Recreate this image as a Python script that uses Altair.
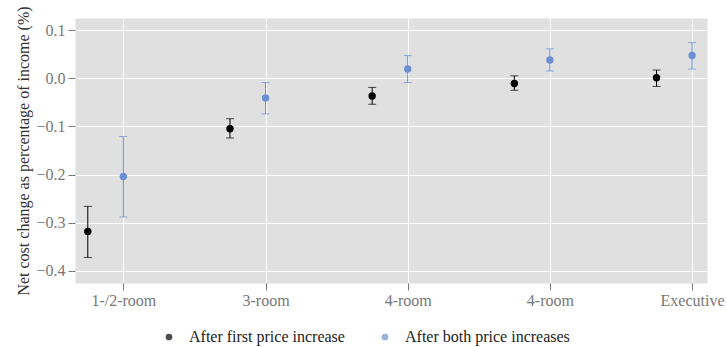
import altair as alt
import pandas as pd

categories = ["1-/2-room", "3-room", "4-room", "4-room", "Executive"]
series = ["After first price increase", "After both price increases"]
first_mean = [-0.318, -0.105, -0.037, -0.011, 0.001]
first_lo = [-0.372, -0.124, -0.054, -0.025, -0.017]
first_hi = [-0.266, -0.084, -0.019, 0.005, 0.017]
both_mean = [-0.204, -0.041, 0.019, 0.038, 0.047]
both_lo = [-0.288, -0.074, -0.009, 0.015, 0.019]
both_hi = [-0.121, -0.009, 0.047, 0.061, 0.074]
offsets = [-0.25, 0.0]

rows = []
for s, (m, lo, hi), off in zip(series, [(first_mean, first_lo, first_hi), (both_mean, both_lo, both_hi)], offsets):
    for i, c in enumerate(categories):
        rows.append({"pos": i + off, "cat": c, "series": s, "mean": m[i], "lo": lo[i], "hi": hi[i]})
df = pd.DataFrame(rows)

FONT = "Liberation Serif"
label_arr = "[" + ",".join("'" + c + "'" for c in categories) + "]"

xs = alt.Scale(domain=[-0.34, 4.105], nice=False, zero=False)
ys = alt.Scale(domain=[-0.425, 0.125], nice=False, zero=False)
color_enc = alt.Color(
    "series:N", scale=alt.Scale(domain=series, range=["#000000", "#6b8fd0"]),
    legend=alt.Legend(title=None, orient="none", direction="horizontal",
                      legendX=86, legendY=311, symbolSize=45,
                      symbolType="circle", columnPadding=32, symbolStrokeWidth=0,
                      labelOffset=12, labelLimit=400,
                      labelFont=FONT, labelFontSize=16, labelColor="#222222"))

x_enc = alt.X("pos:Q", scale=xs,
              axis=alt.Axis(values=[0, 1, 2, 3, 4], labelExpr=label_arr + "[datum.value]",
                            title=None, grid=True, labelPadding=2))
y_enc = alt.Y("mean:Q", scale=ys,
              axis=alt.Axis(values=[0.1, 0.0, -0.1, -0.2, -0.3, -0.4], format=".1f",
                            labelPadding=3,
                            title="Net cost change as percentage of income (%)"))

base = alt.Chart(df)
rule = base.mark_rule(strokeWidth=1).encode(
    x=x_enc, y=alt.Y("lo:Q", scale=ys), y2="hi:Q", color=color_enc)
cap_lo = base.mark_tick(orient="horizontal", size=8, thickness=1).encode(
    x="pos:Q", y="lo:Q", color=color_enc)
cap_hi = base.mark_tick(orient="horizontal", size=8, thickness=1).encode(
    x="pos:Q", y="hi:Q", color=color_enc)
pts = base.mark_point(filled=True, size=55, opacity=1).encode(
    x="pos:Q", y=y_enc, color=color_enc)

chart = alt.layer(rule, cap_lo, cap_hi, pts).properties(
    width=632, height=265,
    autosize=alt.AutoSizeParams(type="none"),
    padding={"left": 75, "top": 18, "right": 20, "bottom": 64},
).configure_view(fill="#e0e0e0", stroke="#eeeeee"
).configure_axis(
    labelFont=FONT, labelFontSize=16, labelColor="#777777",
    titleFont=FONT, titleFontSize=16, titleColor="#333333", titleFontWeight="normal",
    gridColor="#ffffff", gridWidth=1, gridOpacity=1,
    domain=False, tickColor="#777777", tickSize=7,
).configure_axisY(titlePadding=4)

chart.save("out.html", embed_options={"renderer": "svg", "actions": False})
